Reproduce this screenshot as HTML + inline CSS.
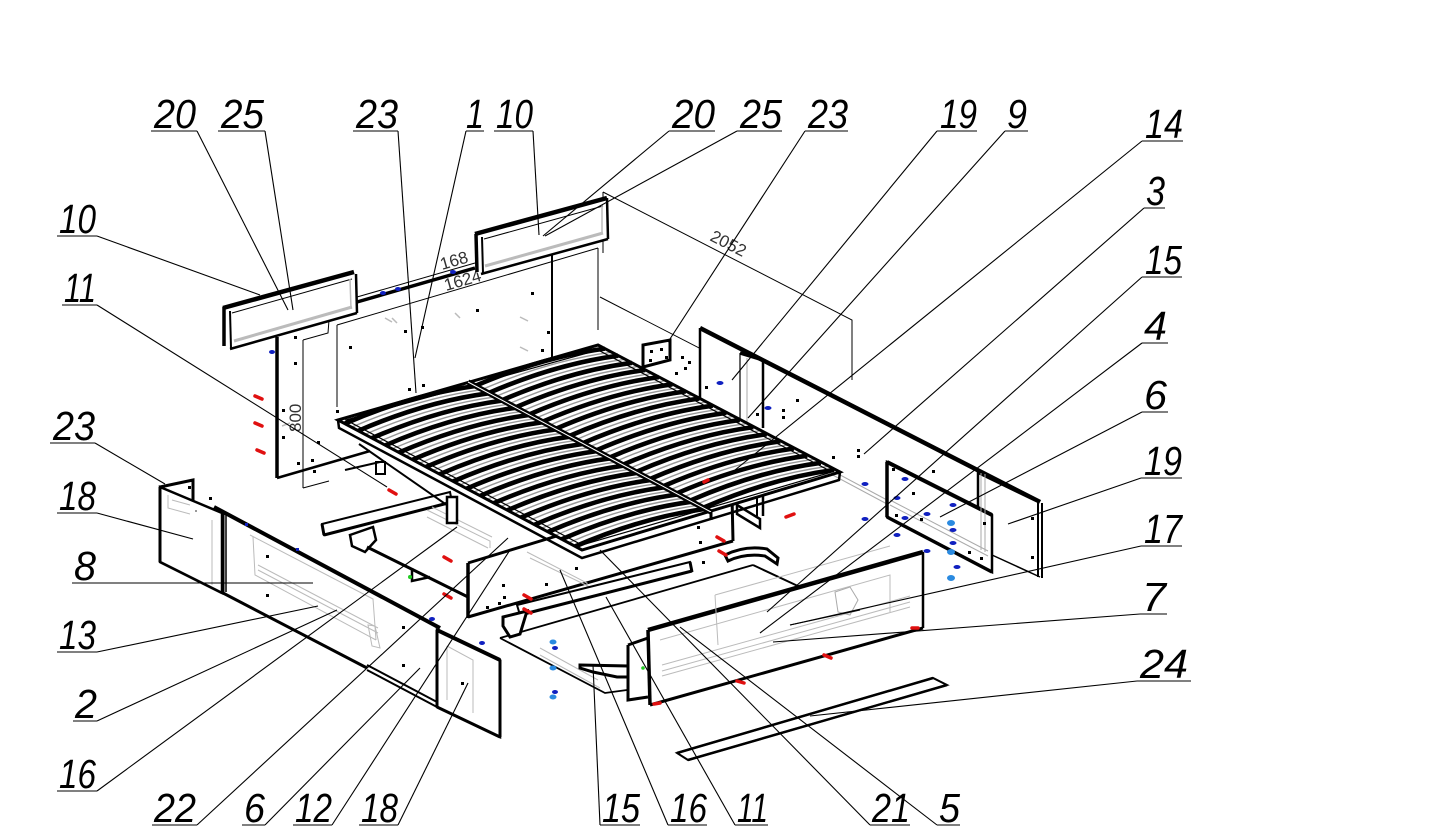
<!DOCTYPE html>
<html><head><meta charset="utf-8"><style>
html,body{margin:0;padding:0;background:#fff;}
svg{display:block;}
.lb{font-family:"Liberation Sans",sans-serif;font-style:italic;font-size:41px;fill:#000;}
.dm{font-family:"Liberation Sans",sans-serif;font-size:17px;fill:#333;}
</style></head><body>
<svg width="1435" height="834" viewBox="0 0 1435 834" xmlns="http://www.w3.org/2000/svg">
<defs>
<path id="s" d="M0,0 Q67,-29 130,-37.5" fill="none" stroke="#000" stroke-width="4.6"/>
<path id="g" d="M0,0 Q67,-29 130,-37.5" fill="none" stroke="#999" stroke-width="1.4"/>
</defs>
<rect width="1435" height="834" fill="#fff"/>

<!-- ===== headboard panel ===== -->
<polygon points="277,330 552,250 552,357 277,478" fill="#fff"/>
<line x1="277" y1="337" x2="277" y2="478" stroke="#000" stroke-width="3.5"/>
<line x1="277" y1="478" x2="370" y2="451" stroke="#000" stroke-width="2.5"/>
<line x1="552" y1="252" x2="552" y2="357" stroke="#000" stroke-width="2"/>
<line x1="598" y1="248" x2="598" y2="330" stroke="#000" stroke-width="1"/>
<line x1="357" y1="302" x2="475" y2="268" stroke="#000" stroke-width="3.5"/>
<line x1="357" y1="297" x2="475" y2="263" stroke="#000" stroke-width="1"/>
<!-- dims -->
<path d="M303,340 L303,488 M303,340 L328,333 L330,307 M303,488 L329,481" fill="none" stroke="#000" stroke-width="1"/>
<path d="M337,325 L598,248 M337,325 L337,407" fill="none" stroke="#000" stroke-width="1"/>
<text class="dm" transform="translate(301,432) rotate(-90)" font-size="19">800</text>
<text class="dm" transform="translate(442,270) rotate(-16)" font-size="18">168</text>
<text class="dm" transform="translate(446,291) rotate(-16)" font-size="18">1624</text>
<path d="M603,192 L852,320 L852,380 M603,192 L603,253" fill="none" stroke="#000" stroke-width="1"/>
<text class="dm" transform="translate(709,240) rotate(27)" font-size="18">2052</text>
<path d="M600,297 L845,423 L845,457" fill="none" stroke="#000" stroke-width="1"/>
<text class="dm" transform="translate(706,344) rotate(28)" font-size="18">2020</text>
<!-- headboard dots -->
<g fill="#000">
<rect x="294" y="336" width="3" height="3"/><rect x="294" y="362" width="3" height="3"/><rect x="282" y="409" width="3" height="3"/>
<rect x="282" y="436" width="3" height="3"/><rect x="297" y="462" width="3" height="3"/><rect x="311" y="459" width="3" height="3"/>
<rect x="317" y="441" width="3" height="3"/><rect x="349" y="346" width="3" height="3"/><rect x="404" y="330" width="3" height="3"/>
<rect x="421" y="326" width="3" height="3"/><rect x="476" y="309" width="3" height="3"/><rect x="531" y="292" width="3" height="3"/>
<rect x="547" y="331" width="3" height="3"/><rect x="541" y="349" width="3" height="3"/><rect x="408" y="388" width="3" height="3"/>
<rect x="422" y="384" width="3" height="3"/><rect x="336" y="410" width="3" height="3"/><rect x="313" y="470" width="3" height="3"/>
</g>
<g stroke="#bbb" stroke-width="1.5">
<line x1="282" y1="426" x2="290" y2="423"/><line x1="385" y1="318" x2="392" y2="322"/><line x1="520" y1="317" x2="528" y2="321"/>
<line x1="520" y1="347" x2="528" y2="351"/><line x1="455" y1="313" x2="460" y2="318"/><line x1="392" y1="318" x2="397" y2="323"/>
</g>

<!-- ===== cushion A ===== -->
<polygon points="223,308 353,272 357,276 357,313 230,349 223,346" fill="#fff"/>
<line x1="223" y1="308" x2="354" y2="272" stroke="#000" stroke-width="4.5"/>
<line x1="224" y1="307" x2="224" y2="346" stroke="#000" stroke-width="3.5"/>
<line x1="230" y1="311" x2="231" y2="348" stroke="#000" stroke-width="2"/>
<line x1="230" y1="349" x2="357" y2="313" stroke="#000" stroke-width="2.5"/>
<line x1="356" y1="274" x2="357" y2="313" stroke="#000" stroke-width="2.5"/>
<line x1="232" y1="313" x2="352" y2="279" stroke="#000" stroke-width="1"/>
<line x1="234" y1="341" x2="352" y2="307" stroke="#bbb" stroke-width="3"/>
<line x1="350" y1="279" x2="351" y2="309" stroke="#bbb" stroke-width="1.5"/>
<!-- cushion B -->
<polygon points="475,233 607,197 608,239 481,274 476,272" fill="#fff"/>
<line x1="475" y1="234" x2="607" y2="198" stroke="#000" stroke-width="4.5"/>
<line x1="476" y1="234" x2="477" y2="272" stroke="#000" stroke-width="3.5"/>
<line x1="482" y1="237" x2="483" y2="273" stroke="#000" stroke-width="2"/>
<line x1="481" y1="274" x2="608" y2="239" stroke="#000" stroke-width="2.5"/>
<line x1="607" y1="198" x2="608" y2="239" stroke="#000" stroke-width="2.5"/>
<line x1="484" y1="239" x2="603" y2="206" stroke="#000" stroke-width="1"/>
<line x1="485" y1="266" x2="603" y2="233" stroke="#bbb" stroke-width="3"/>
<line x1="602" y1="206" x2="602" y2="233" stroke="#bbb" stroke-width="1.5"/>

<!-- ===== right long panel ===== -->
<polygon points="700,328 1040,502 1040,560 700,400" fill="#fff"/>
<line x1="700" y1="328" x2="1040" y2="502" stroke="#000" stroke-width="4.5"/>
<line x1="700" y1="328" x2="700" y2="398" stroke="#000" stroke-width="2.5"/>
<line x1="700" y1="400" x2="887" y2="500" stroke="#aaa" stroke-width="1"/>
<line x1="700" y1="404" x2="887" y2="504" stroke="#aaa" stroke-width="1"/>
<line x1="740" y1="353" x2="763" y2="360" stroke="#000" stroke-width="3.5"/>
<line x1="763" y1="359" x2="763" y2="428" stroke="#000" stroke-width="2.5"/>
<line x1="740" y1="353" x2="740" y2="422" stroke="#000" stroke-width="1.2"/>
<line x1="747" y1="358" x2="747" y2="428" stroke="#aaa" stroke-width="1"/>
<polygon points="643,345 670,340 670,360 643,367" fill="#fff" stroke="#000" stroke-width="3"/>
<g fill="#000">
<rect x="650" y="350" width="3" height="3"/><rect x="660" y="348" width="3" height="3"/><rect x="649" y="359" width="3" height="3"/>
<rect x="665" y="356" width="3" height="3"/><rect x="681" y="356" width="3" height="3"/><rect x="688" y="361" width="3" height="3"/>
<rect x="684" y="367" width="3" height="3"/><rect x="675" y="372" width="3" height="3"/><rect x="782" y="409" width="3" height="3"/>
<rect x="782" y="416" width="3" height="3"/><rect x="796" y="399" width="3" height="3"/><rect x="857" y="449" width="3" height="3"/>
<rect x="857" y="455" width="3" height="3"/><rect x="832" y="456" width="3" height="3"/><rect x="932" y="470" width="3" height="3"/>
<rect x="705" y="386" width="3" height="3"/><rect x="756" y="413" width="3" height="3"/>
</g>

<!-- panel 19 end -->
<polygon points="978,472 1040,502 1040,577 992,555 978,520" fill="#fff"/>
<line x1="978" y1="472" x2="1040" y2="502" stroke="#000" stroke-width="4"/>
<line x1="1038" y1="502" x2="1038" y2="577" stroke="#000" stroke-width="2"/>
<line x1="1042" y1="503" x2="1042" y2="578" stroke="#000" stroke-width="2"/>
<line x1="992" y1="555" x2="1040" y2="577" stroke="#000" stroke-width="1.5"/>
<line x1="978" y1="472" x2="978" y2="510" stroke="#000" stroke-width="2.5"/>
<rect x="1031" y="517" width="3" height="3"/><rect x="1031" y="556" width="3" height="3"/>
<!-- panel 4 -->
<polygon points="887,462 992,515 992,572 887,517" fill="#fff" stroke="#000" stroke-width="2.5"/>
<line x1="887" y1="462" x2="992" y2="515" stroke="#000" stroke-width="4"/>
<line x1="887" y1="462" x2="887" y2="517" stroke="#000" stroke-width="3.5"/>
<line x1="887" y1="517" x2="992" y2="572" stroke="#000" stroke-width="3.5"/>
<line x1="890" y1="500" x2="988" y2="551" stroke="#aaa" stroke-width="1"/>
<line x1="890" y1="505" x2="988" y2="556" stroke="#aaa" stroke-width="1"/>
<line x1="981" y1="473" x2="981" y2="550" stroke="#aaa" stroke-width="1"/>
<line x1="985" y1="474" x2="985" y2="552" stroke="#aaa" stroke-width="1"/>
<g fill="#000">
<rect x="892" y="468" width="3" height="3"/><rect x="895" y="514" width="3" height="3"/><rect x="912" y="492" width="3" height="3"/>
<rect x="920" y="518" width="3" height="3"/><rect x="968" y="551" width="3" height="3"/><rect x="980" y="557" width="3" height="3"/>
<rect x="983" y="522" width="3" height="3"/>
</g>

<!-- ===== left end panel 18 + bracket 23 ===== -->
<polygon points="160,487 222,513 222,593 160,562" fill="#fff" stroke="#000" stroke-width="2.5"/>
<line x1="160" y1="487" x2="160" y2="562" stroke="#000" stroke-width="3"/>
<line x1="160" y1="562" x2="222" y2="593" stroke="#000" stroke-width="2.5"/>
<path d="M160,487 L193,480 L193,501" fill="none" stroke="#000" stroke-width="3"/>
<path d="M168,495 L168,508 L190,514 M172,500 L190,505" fill="none" stroke="#bbb" stroke-width="1"/>
<line x1="212" y1="520" x2="212" y2="585" stroke="#bbb" stroke-width="1"/>
<rect x="188" y="486" width="3" height="3"/><rect x="209" y="497" width="3" height="3"/><rect x="195" y="510" width="2" height="2" fill="#999"/>
<!-- long panel 8 -->
<polygon points="222,511 440,628 440,705 223,593" fill="#fff"/>
<line x1="214" y1="507" x2="440" y2="628" stroke="#000" stroke-width="4"/>
<line x1="223" y1="511" x2="223" y2="593" stroke="#000" stroke-width="3"/>
<line x1="226" y1="513" x2="226" y2="592" stroke="#000" stroke-width="1.5"/>
<line x1="223" y1="593" x2="367" y2="668" stroke="#000" stroke-width="3"/>
<line x1="367" y1="665" x2="437" y2="702" stroke="#000" stroke-width="2"/>
<line x1="367" y1="670" x2="437" y2="707" stroke="#000" stroke-width="2"/>
<path d="M250,535 L373,599 L376,640 M253,537 L255,575 L376,640 M258,565 L378,628 M258,570 L378,633" fill="none" stroke="#bbb" stroke-width="1"/>
<path d="M368,625 L375,626 L380,648 L372,646 Z" fill="none" stroke="#bbb" stroke-width="1"/>
<g fill="#000">
<rect x="266" y="555" width="3" height="3"/><rect x="266" y="594" width="3" height="3"/><rect x="402" y="626" width="3" height="3"/>
<rect x="402" y="664" width="3" height="3"/><rect x="245" y="523" width="3" height="3" fill="#1020c0"/><rect x="296" y="548" width="3" height="3" fill="#1020c0"/>
</g>
<!-- panel 18 right -->
<polygon points="437,630 500,660 500,737 437,707" fill="#fff" stroke="#000" stroke-width="2.5"/>
<line x1="437" y1="630" x2="500" y2="660" stroke="#000" stroke-width="4"/>
<line x1="437" y1="630" x2="437" y2="707" stroke="#000" stroke-width="3"/>
<line x1="500" y1="660" x2="500" y2="737" stroke="#000" stroke-width="3"/>
<line x1="437" y1="707" x2="500" y2="737" stroke="#000" stroke-width="3"/>
<path d="M447,646 L473,660 L473,713 M447,646 L447,700" fill="none" stroke="#bbb" stroke-width="1"/>
<rect x="461" y="682" width="3" height="3"/>

<!-- ===== under frame parts ===== -->
<polygon points="322,524 450,492 452,502 324,535" fill="#fff" stroke="#000" stroke-width="2"/>
<line x1="324" y1="535" x2="452" y2="502" stroke="#000" stroke-width="3"/>
<line x1="322" y1="524" x2="324" y2="535" stroke="#000" stroke-width="3"/>
<path d="M350,535 L373,527 L376,540 L365,552 L352,546 Z" fill="#fff" stroke="#000" stroke-width="2.5"/>
<line x1="367" y1="547" x2="468" y2="597" stroke="#000" stroke-width="3"/>
<path d="M412,568 L412,581 L430,577" fill="none" stroke="#000" stroke-width="2.5"/>
<circle cx="410" cy="577" r="2" fill="#2c2"/>
<path d="M427,510 L490,541 L490,548 M427,517 L488,548 M432,507 L492,537" fill="none" stroke="#bbb" stroke-width="1"/>
<line x1="359" y1="444" x2="454" y2="510" stroke="#000" stroke-width="2"/>
<rect x="376" y="462" width="9" height="12" fill="#fff" stroke="#000" stroke-width="2"/>
<rect x="447" y="497" width="10" height="26" fill="#fff" stroke="#000" stroke-width="2.5"/>
<line x1="345" y1="470" x2="380" y2="462" stroke="#000" stroke-width="2"/>
<!-- center front panel -->
<polygon points="468,563 732,485 733,541 468,617" fill="#fff"/>
<line x1="468" y1="563" x2="468" y2="618" stroke="#000" stroke-width="3.5"/>
<line x1="468" y1="563" x2="560" y2="535" stroke="#000" stroke-width="3"/>
<line x1="468" y1="617" x2="733" y2="541" stroke="#000" stroke-width="3"/>
<line x1="732" y1="495" x2="733" y2="541" stroke="#000" stroke-width="3"/>
<path d="M527,552 L587,583 L587,590 M530,558 L590,587 M560,540 L650,510" fill="none" stroke="#bbb" stroke-width="1"/>
<g fill="#000">
<rect x="502" y="584" width="3" height="3"/><rect x="503" y="596" width="3" height="3"/><rect x="498" y="602" width="3" height="3"/>
<rect x="486" y="606" width="3" height="3"/><rect x="697" y="526" width="3" height="3"/><rect x="699" y="541" width="3" height="3"/>
<rect x="702" y="561" width="3" height="3"/><rect x="545" y="583" width="3" height="3"/><rect x="575" y="567" width="3" height="3"/>
</g>
<path d="M737,505 L760,519 L760,528 L737,514 Z" fill="#fff" stroke="#000" stroke-width="2.5"/>
<line x1="757" y1="483" x2="757" y2="516" stroke="#000" stroke-width="2"/>
<line x1="763" y1="483" x2="763" y2="516" stroke="#000" stroke-width="2.5"/>

<!-- ===== slat frame ===== -->
<polygon points="338,420 598,345 840,472 582,550" fill="#fff"/>
<g>
<use href="#g" x="351.6" y="427.2"/><use href="#g" x="365.1" y="434.4"/><use href="#g" x="378.7" y="441.7"/><use href="#g" x="392.2" y="448.9"/>
<use href="#g" x="405.8" y="456.1"/><use href="#g" x="419.4" y="463.3"/><use href="#g" x="432.9" y="470.5"/><use href="#g" x="446.5" y="477.8"/>
<use href="#g" x="460.0" y="485.0"/><use href="#g" x="473.6" y="492.2"/><use href="#g" x="487.1" y="499.4"/><use href="#g" x="500.7" y="506.7"/>
<use href="#g" x="514.2" y="513.9"/><use href="#g" x="527.8" y="521.1"/><use href="#g" x="541.4" y="528.3"/><use href="#g" x="554.9" y="535.5"/>
<use href="#g" x="568.5" y="542.8"/>
<use href="#g" x="481.6" y="389.7"/><use href="#g" x="495.0" y="396.8"/><use href="#g" x="508.6" y="403.9"/><use href="#g" x="522.0" y="411.1"/>
<use href="#g" x="535.6" y="418.2"/><use href="#g" x="549.1" y="425.4"/><use href="#g" x="562.5" y="432.5"/><use href="#g" x="576.1" y="439.6"/>
<use href="#g" x="589.5" y="446.8"/><use href="#g" x="603.1" y="453.9"/><use href="#g" x="616.5" y="461.1"/><use href="#g" x="630.1" y="468.2"/>
<use href="#g" x="643.5" y="475.3"/><use href="#g" x="657.1" y="482.5"/><use href="#g" x="670.6" y="489.6"/><use href="#g" x="684.0" y="496.8"/>
<use href="#g" x="697.6" y="503.9"/>
</g>
<g>
<use href="#s" x="344.8" y="423.6"/><use href="#s" x="358.3" y="430.8"/><use href="#s" x="371.9" y="438.1"/><use href="#s" x="385.4" y="445.3"/>
<use href="#s" x="399.0" y="452.5"/><use href="#s" x="412.6" y="459.7"/><use href="#s" x="426.1" y="466.9"/><use href="#s" x="439.7" y="474.2"/>
<use href="#s" x="453.2" y="481.4"/><use href="#s" x="466.8" y="488.6"/><use href="#s" x="480.3" y="495.8"/><use href="#s" x="493.9" y="503.1"/>
<use href="#s" x="507.4" y="510.3"/><use href="#s" x="521.0" y="517.5"/><use href="#s" x="534.6" y="524.7"/><use href="#s" x="548.1" y="531.9"/>
<use href="#s" x="561.7" y="539.2"/><use href="#s" x="575.2" y="546.4"/>
<use href="#s" x="474.8" y="386.1"/><use href="#s" x="488.2" y="393.2"/><use href="#s" x="501.8" y="400.3"/><use href="#s" x="515.2" y="407.5"/>
<use href="#s" x="528.8" y="414.6"/><use href="#s" x="542.3" y="421.8"/><use href="#s" x="555.7" y="428.9"/><use href="#s" x="569.3" y="436.0"/>
<use href="#s" x="582.7" y="443.2"/><use href="#s" x="596.3" y="450.3"/><use href="#s" x="609.7" y="457.5"/><use href="#s" x="623.3" y="464.6"/>
<use href="#s" x="636.7" y="471.7"/><use href="#s" x="650.3" y="478.9"/><use href="#s" x="663.8" y="486.0"/><use href="#s" x="677.2" y="493.2"/>
<use href="#s" x="690.8" y="500.3"/><use href="#s" x="704.2" y="507.4"/>
</g>
<polygon points="338,420 598,345 840,472 582,550" fill="none" stroke="#000" stroke-width="3"/>
<path d="M338,420 L339,428 L582,558 L839,480 L840,472" fill="none" stroke="#000" stroke-width="2.5"/>
<polygon points="346,420 598,350 832,472 582,545" fill="none" stroke="#000" stroke-width="1.2"/>
<line x1="468" y1="382" x2="711" y2="512" stroke="#000" stroke-width="5.5"/>
<line x1="468" y1="382" x2="711" y2="512" stroke="#fff" stroke-width="1"/>
<line x1="711" y1="512" x2="711" y2="520" stroke="#000" stroke-width="3"/>

<!-- ===== rail 16 + drawer ===== -->
<line x1="500" y1="638" x2="753" y2="565" stroke="#000" stroke-width="1.8"/>
<line x1="753" y1="565" x2="800" y2="587" stroke="#000" stroke-width="2"/>
<path d="M500,638 L605,693 L627,690" fill="none" stroke="#000" stroke-width="1.8"/>
<path d="M540,655 L600,688 M540,648 L598,680" fill="none" stroke="#bbb" stroke-width="1"/>
<polygon points="517,605 690,562 692,571 520,615" fill="#fff" stroke="#000" stroke-width="2"/>
<line x1="520" y1="615" x2="692" y2="571" stroke="#000" stroke-width="3"/>
<line x1="690" y1="562" x2="692" y2="572" stroke="#000" stroke-width="3"/>
<path d="M503,617 L527,611 L520,634 L510,637 L503,626 Z" fill="#fff" stroke="#000" stroke-width="3"/>
<path d="M580,665 L628,666 L628,677 L617,677 L593,672 L580,668 Z" fill="#fff" stroke="#000" stroke-width="3"/>
<path d="M725,555 Q745,545 767,549 L778,558 L777,564 L765,556 Q745,553 728,561 Z" fill="#fff" stroke="#000" stroke-width="3"/>
<polygon points="628,645 648,638 650,705 628,700" fill="#fff"/>
<path d="M628,645 L648,638 M628,645 L628,700 L648,697" fill="none" stroke="#000" stroke-width="3"/>
<circle cx="643" cy="668" r="1.8" fill="#2c2"/>
<polygon points="648,630 923,552 923,628 650,705" fill="#fff"/>
<line x1="648" y1="630" x2="923" y2="552" stroke="#000" stroke-width="4.5"/>
<line x1="648" y1="630" x2="650" y2="705" stroke="#000" stroke-width="3.5"/>
<line x1="650" y1="705" x2="923" y2="628" stroke="#000" stroke-width="3"/>
<line x1="923" y1="552" x2="923" y2="628" stroke="#000" stroke-width="2.5"/>
<path d="M660,640 L890,575 L890,612 M715,595 L890,546 M662,665 L910,596 M662,671 L910,602 M662,676 L910,607 M715,595 L718,645" fill="none" stroke="#bbb" stroke-width="1"/>
<path d="M835,592 L850,587 L858,600 L850,615 L838,612 Z" fill="none" stroke="#aaa" stroke-width="1"/>
<line x1="790" y1="625" x2="860" y2="610" stroke="#000" stroke-width="1"/>
<polygon points="677,753 933,678 947,685 688,760" fill="#fff" stroke="#000" stroke-width="2"/>
<line x1="677" y1="753" x2="933" y2="678" stroke="#000" stroke-width="2.5"/>
<line x1="688" y1="760" x2="947" y2="685" stroke="#000" stroke-width="2.5"/>

<!-- ===== colored marks ===== -->
<g stroke="#e01010" stroke-width="3.5" stroke-linecap="round">
<line x1="255" y1="396" x2="262" y2="399"/><line x1="255" y1="423" x2="262" y2="426"/><line x1="257" y1="450" x2="264" y2="453"/>
<line x1="389" y1="490" x2="396" y2="494"/><line x1="444" y1="557" x2="451" y2="561"/><line x1="444" y1="594" x2="451" y2="598"/>
<line x1="524" y1="595" x2="531" y2="599"/><line x1="524" y1="609" x2="531" y2="613"/><line x1="786" y1="517" x2="794" y2="514"/>
<line x1="717" y1="537" x2="724" y2="541"/><line x1="719" y1="551" x2="726" y2="555"/><line x1="737" y1="681" x2="744" y2="683"/>
<line x1="824" y1="655" x2="831" y2="658"/><line x1="912" y1="628" x2="918" y2="628"/><line x1="654" y1="704" x2="660" y2="703"/>
<line x1="704" y1="482" x2="708" y2="480"/>
</g>
<g fill="#1020c0">
<ellipse cx="272" cy="352" rx="3" ry="2"/><ellipse cx="383" cy="293" rx="3" ry="2"/><ellipse cx="398" cy="289" rx="3" ry="2"/>
<ellipse cx="453" cy="272" rx="3" ry="2"/><ellipse cx="432" cy="619" rx="3" ry="2"/><ellipse cx="482" cy="643" rx="3" ry="2"/>
<ellipse cx="720" cy="383" rx="3.5" ry="2"/><ellipse cx="768" cy="408" rx="3.5" ry="2"/><ellipse cx="865" cy="484" rx="3.5" ry="2"/>
<ellipse cx="905" cy="479" rx="3.5" ry="2"/><ellipse cx="897" cy="498" rx="3.5" ry="2"/><ellipse cx="865" cy="519" rx="3.5" ry="2"/>
<ellipse cx="905" cy="518" rx="3.5" ry="2"/><ellipse cx="897" cy="535" rx="3.5" ry="2"/><ellipse cx="927" cy="514" rx="3.5" ry="2"/>
<ellipse cx="953" cy="505" rx="3.5" ry="2"/><ellipse cx="953" cy="530" rx="3.5" ry="2"/><ellipse cx="953" cy="543" rx="3.5" ry="2"/>
<ellipse cx="927" cy="551" rx="3.5" ry="2"/><ellipse cx="957" cy="567" rx="3.5" ry="2"/><ellipse cx="555" cy="648" rx="3" ry="2"/>
<ellipse cx="555" cy="692" rx="3" ry="2"/>
</g>
<g fill="#2a8ae0">
<ellipse cx="951" cy="523" rx="4" ry="3"/><ellipse cx="951" cy="552" rx="4" ry="3"/><ellipse cx="951" cy="578" rx="4" ry="3"/>
<ellipse cx="553" cy="642" rx="3.5" ry="2.5"/><ellipse cx="553" cy="668" rx="3.5" ry="2.5"/><ellipse cx="553" cy="697" rx="3.5" ry="2.5"/>
</g>

<!-- ===== leaders & underlines ===== -->
<g stroke="#000" stroke-width="1.1" fill="none">
<line x1="151" y1="131" x2="197" y2="131"/><line x1="218" y1="131" x2="265" y2="131"/><line x1="353" y1="131" x2="398" y2="131"/>
<line x1="466" y1="131" x2="484" y2="131"/><line x1="494" y1="131" x2="533" y2="131"/><line x1="669" y1="131" x2="715" y2="131"/>
<line x1="737" y1="131" x2="782" y2="131"/><line x1="805" y1="131" x2="848" y2="131"/><line x1="937" y1="131" x2="977" y2="131"/>
<line x1="1005" y1="131" x2="1028" y2="131"/>
<line x1="1142" y1="141" x2="1183" y2="141"/><line x1="1144" y1="208" x2="1165" y2="208"/><line x1="1142" y1="277" x2="1182" y2="277"/>
<line x1="1142" y1="343" x2="1168" y2="343"/><line x1="1142" y1="412" x2="1168" y2="412"/><line x1="1141" y1="478" x2="1182" y2="478"/>
<line x1="1141" y1="546" x2="1182" y2="546"/><line x1="1140" y1="614" x2="1167" y2="614"/><line x1="1137" y1="681" x2="1191" y2="681"/>
<line x1="57" y1="236" x2="97" y2="236"/><line x1="62" y1="305" x2="97" y2="305"/><line x1="50" y1="443" x2="95" y2="443"/>
<line x1="57" y1="513" x2="97" y2="513"/><line x1="72" y1="583" x2="97" y2="583"/><line x1="57" y1="652" x2="97" y2="652"/>
<line x1="73" y1="721" x2="97" y2="721"/><line x1="57" y1="791" x2="97" y2="791"/>
<line x1="152" y1="825" x2="197" y2="825"/><line x1="242" y1="825" x2="265" y2="825"/><line x1="293" y1="825" x2="332" y2="825"/>
<line x1="359" y1="825" x2="398" y2="825"/><line x1="600" y1="825" x2="640" y2="825"/><line x1="668" y1="825" x2="707" y2="825"/>
<line x1="735" y1="825" x2="768" y2="825"/><line x1="870" y1="825" x2="910" y2="825"/><line x1="937" y1="825" x2="960" y2="825"/>

<line x1="197" y1="131" x2="288" y2="310"/><line x1="265" y1="131" x2="293" y2="310"/><line x1="398" y1="131" x2="416" y2="393"/>
<line x1="466" y1="131" x2="415" y2="358"/><line x1="533" y1="131" x2="539" y2="235"/><line x1="669" y1="131" x2="543" y2="236"/>
<line x1="737" y1="131" x2="545" y2="236"/><line x1="805" y1="131" x2="668" y2="342"/><line x1="937" y1="131" x2="732" y2="380"/>
<line x1="1005" y1="131" x2="748" y2="418"/>
<line x1="1142" y1="141" x2="735" y2="470"/><line x1="1144" y1="208" x2="864" y2="454"/><line x1="1142" y1="277" x2="767" y2="612"/>
<line x1="1142" y1="343" x2="760" y2="633"/><line x1="1142" y1="412" x2="940" y2="517"/><line x1="1141" y1="478" x2="1008" y2="524"/>
<line x1="1141" y1="546" x2="790" y2="625"/><line x1="1140" y1="614" x2="773" y2="642"/><line x1="1137" y1="681" x2="810" y2="716"/>
<line x1="97" y1="236" x2="260" y2="295"/><line x1="97" y1="305" x2="387" y2="487"/><line x1="95" y1="443" x2="165" y2="484"/>
<line x1="97" y1="513" x2="193" y2="539"/><line x1="97" y1="583" x2="313" y2="583"/><line x1="97" y1="652" x2="318" y2="606"/>
<line x1="97" y1="721" x2="337" y2="610"/><line x1="97" y1="791" x2="457" y2="527"/>
<line x1="197" y1="825" x2="508" y2="538"/><line x1="265" y1="825" x2="420" y2="668"/><line x1="332" y1="825" x2="510" y2="550"/>
<line x1="398" y1="825" x2="468" y2="683"/><line x1="600" y1="825" x2="593" y2="665"/><line x1="668" y1="825" x2="560" y2="570"/>
<line x1="735" y1="825" x2="606" y2="597"/><line x1="870" y1="825" x2="600" y2="550"/><line x1="937" y1="825" x2="680" y2="627"/>
</g>

<!-- ===== labels ===== -->
<g class="lb">
<text x="154" y="128" textLength="42" lengthAdjust="spacingAndGlyphs">20</text>
<text x="221" y="128" textLength="43" lengthAdjust="spacingAndGlyphs">25</text>
<text x="356" y="128" textLength="42" lengthAdjust="spacingAndGlyphs">23</text>
<text x="466" y="128" textLength="18" lengthAdjust="spacingAndGlyphs">1</text>
<text x="496" y="128" textLength="37" lengthAdjust="spacingAndGlyphs">10</text>
<text x="672" y="128" textLength="43" lengthAdjust="spacingAndGlyphs">20</text>
<text x="740" y="128" textLength="42" lengthAdjust="spacingAndGlyphs">25</text>
<text x="808" y="128" textLength="40" lengthAdjust="spacingAndGlyphs">23</text>
<text x="940" y="128" textLength="37" lengthAdjust="spacingAndGlyphs">19</text>
<text x="1007" y="128" textLength="20" lengthAdjust="spacingAndGlyphs">9</text>
<text x="1145" y="138" textLength="38" lengthAdjust="spacingAndGlyphs">14</text>
<text x="1146" y="205" textLength="19" lengthAdjust="spacingAndGlyphs">3</text>
<text x="1145" y="274" textLength="37" lengthAdjust="spacingAndGlyphs">15</text>
<text x="1144" y="340" textLength="23" lengthAdjust="spacingAndGlyphs">4</text>
<text x="1144" y="409" textLength="23" lengthAdjust="spacingAndGlyphs">6</text>
<text x="1144" y="475" textLength="38" lengthAdjust="spacingAndGlyphs">19</text>
<text x="1144" y="543" textLength="38" lengthAdjust="spacingAndGlyphs">17</text>
<text x="1142" y="611" textLength="24" lengthAdjust="spacingAndGlyphs">7</text>
<text x="1140" y="678" textLength="48" lengthAdjust="spacingAndGlyphs">24</text>
<text x="59" y="233" textLength="37" lengthAdjust="spacingAndGlyphs">10</text>
<text x="64" y="302" textLength="32" lengthAdjust="spacingAndGlyphs">11</text>
<text x="53" y="440" textLength="42" lengthAdjust="spacingAndGlyphs">23</text>
<text x="59" y="510" textLength="37" lengthAdjust="spacingAndGlyphs">18</text>
<text x="74" y="580" textLength="22" lengthAdjust="spacingAndGlyphs">8</text>
<text x="59" y="649" textLength="37" lengthAdjust="spacingAndGlyphs">13</text>
<text x="75" y="718" textLength="22" lengthAdjust="spacingAndGlyphs">2</text>
<text x="59" y="788" textLength="37" lengthAdjust="spacingAndGlyphs">16</text>
<text x="154" y="822" textLength="42" lengthAdjust="spacingAndGlyphs">22</text>
<text x="244" y="822" textLength="21" lengthAdjust="spacingAndGlyphs">6</text>
<text x="295" y="822" textLength="37" lengthAdjust="spacingAndGlyphs">12</text>
<text x="361" y="822" textLength="37" lengthAdjust="spacingAndGlyphs">18</text>
<text x="602" y="822" textLength="38" lengthAdjust="spacingAndGlyphs">15</text>
<text x="670" y="822" textLength="37" lengthAdjust="spacingAndGlyphs">16</text>
<text x="737" y="822" textLength="31" lengthAdjust="spacingAndGlyphs">11</text>
<text x="872" y="822" textLength="38" lengthAdjust="spacingAndGlyphs">21</text>
<text x="939" y="822" textLength="21" lengthAdjust="spacingAndGlyphs">5</text>
</g>
</svg>
</body></html>
